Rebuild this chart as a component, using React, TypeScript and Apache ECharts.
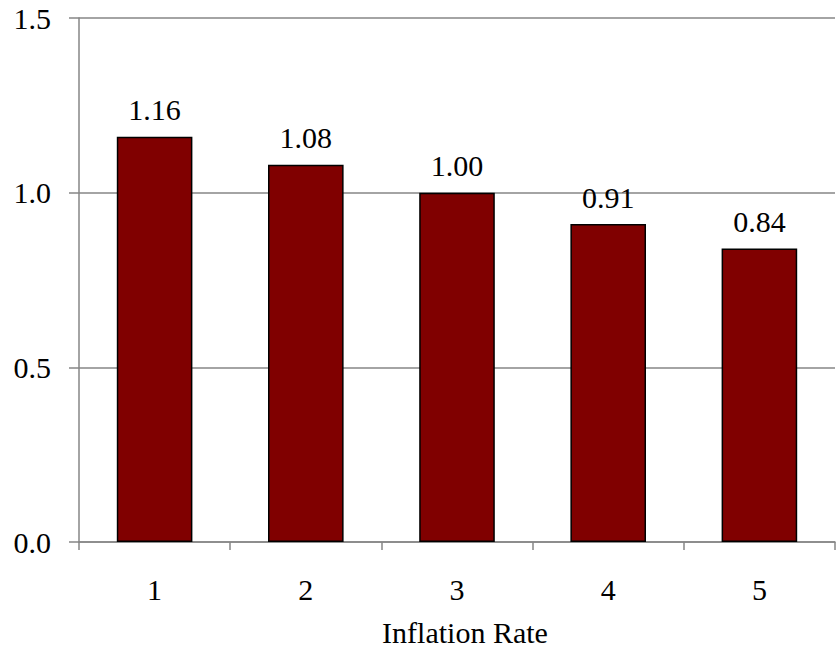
import React, { useEffect, useRef } from "react";
import * as echarts from "echarts";

const categories = ["1", "2", "3", "4", "5"];
const values = [1.16, 1.08, 1.0, 0.91, 0.84];
const axisTitle = "Inflation Rate";

const FONT = "Liberation Serif, Times New Roman, serif";
const FS = 30;

export default function App() {
  const ref = useRef<HTMLDivElement>(null);
  useEffect(() => {
    if (!ref.current) return;
    const chart = echarts.init(ref.current, null, { renderer: "svg" });
    chart.setOption({
      animation: false,
      backgroundColor: "#ffffff",
      textStyle: { fontFamily: FONT },
      grid: { left: 79, right: 2, top: 18, bottom: 107, containLabel: false },
      xAxis: {
        type: "category",
        data: categories,
        boundaryGap: true,
        axisLine: { show: true, lineStyle: { color: "#868686", width: 1.5 } },
        axisTick: { show: true, length: 8, alignWithLabel: false, lineStyle: { color: "#868686", width: 1.5 } },
        axisLabel: { margin: 32, color: "#000", fontFamily: FONT, fontSize: FS },
        splitLine: { show: false },
      },
      yAxis: {
        type: "value",
        min: 0,
        max: 1.5,
        interval: 0.5,
        axisLine: { show: true, lineStyle: { color: "#868686", width: 1.5 } },
        axisTick: { show: true, inside: false, length: 10, lineStyle: { color: "#868686", width: 1.5 } },
        axisLabel: {
          margin: 28,
          color: "#000",
          fontFamily: FONT,
          fontSize: FS,
          formatter: (v: number) => v.toFixed(1),
        },
        splitLine: { show: true, lineStyle: { color: "#868686", width: 1.5 } },
      },
      graphic: [
        {
          type: "text",
          x: 465,
          y: 632,
          style: {
            text: axisTitle,
            align: "center",
            verticalAlign: "middle",
            fontFamily: FONT,
            fontSize: FS,
            fill: "#000",
          },
        },
      ],
      series: [
        {
          type: "bar",
          data: values,
          barWidth: "50%",
          itemStyle: { color: "#800000", borderColor: "#000", borderWidth: 1.5 },
          label: {
            show: true,
            position: "top",
            distance: 12,
            color: "#000",
            fontFamily: FONT,
            fontSize: FS,
            formatter: (p: any) => Number(p.value).toFixed(2),
          },
        },
      ],
    });
    return () => chart.dispose();
  }, []);
  return (
    <div
      ref={ref}
      style={{ position: "absolute", left: 0, top: 0, width: 837, height: 649 }}
    />
  );
}
